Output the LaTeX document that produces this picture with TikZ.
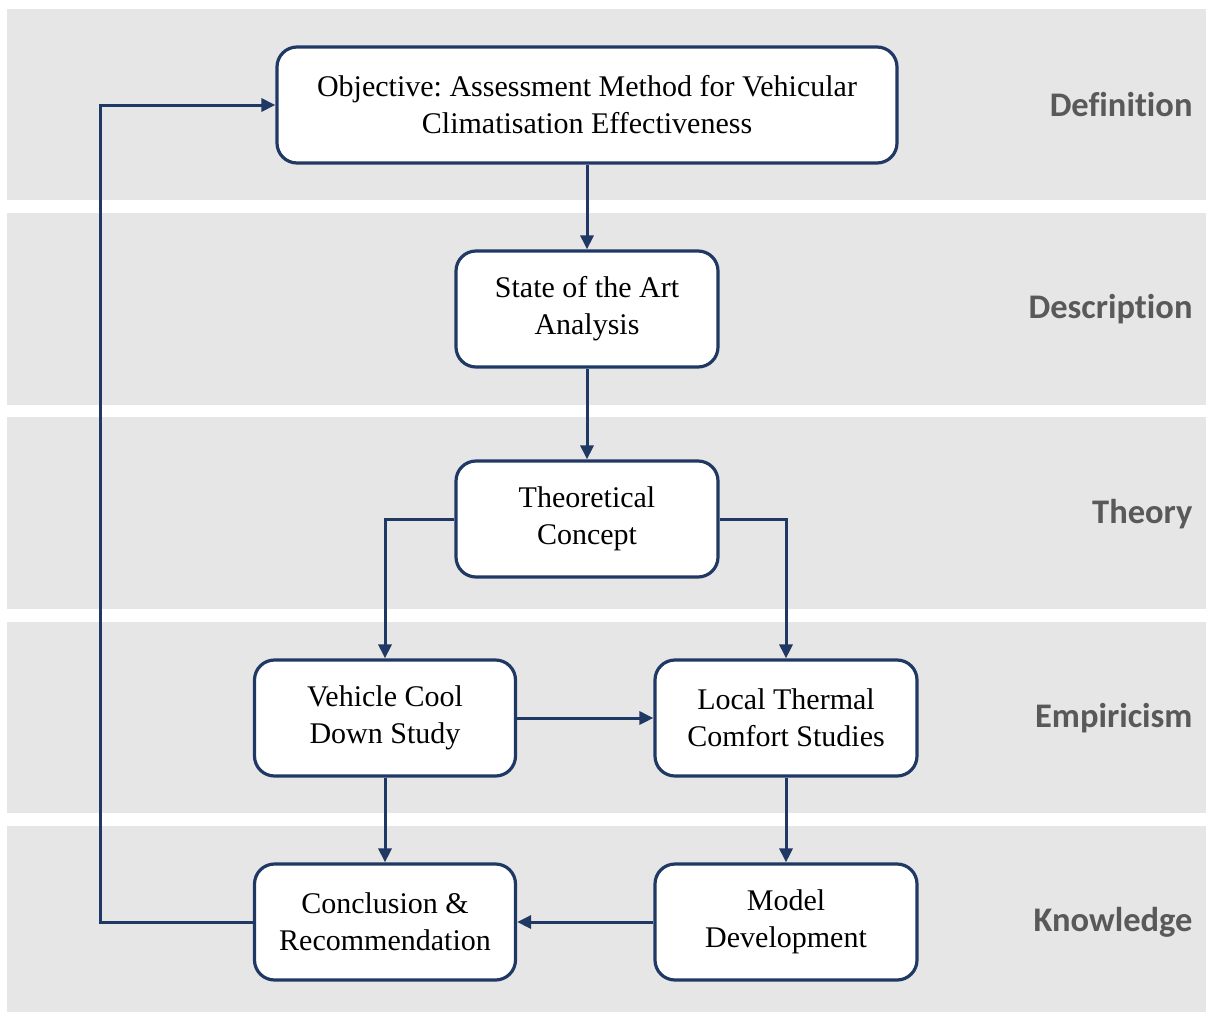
\documentclass[tikz,border=0pt]{standalone}
\usepackage{fontspec}
\setmainfont{Liberation Serif}
\newfontfamily\labelfont[Ligatures=NoCommon]{Carlito}
\usetikzlibrary{arrows.meta}
\definecolor{band}{RGB}{231,230,230}
\definecolor{navy}{RGB}{32,56,100}
\definecolor{labelgray}{RGB}{89,89,89}
\frenchspacing
\begin{document}
\begin{tikzpicture}[x=1pt,y=-1pt,
  stagebox/.style={draw=navy, line width=3.2pt, fill=white, rounded corners=20pt,
    minimum height=116pt, align=center, inner sep=0pt,
    font=\fontsize{30}{37}\selectfont},
  flow/.style={draw=navy, line width=3pt, -{Triangle[length=14pt,width=13pt]}},
  bandlabel/.style={anchor=east, text=labelgray, font=\labelfont\bfseries\fontsize{34.5}{40}\selectfont}
]
\useasboundingbox (0,0) rectangle (1206,1012);
% horizontal bands
\foreach \top/\bot in {9/200, 213/405, 417/609, 622/813, 826/1012}
  \fill[band] (7,\top) rectangle (1206,\bot);

% stage labels
\node[bandlabel] (ldef) at (1196,105) {Definition};
\node[bandlabel] (ldes) at (1196,309) {Description};
\node[bandlabel] (lthe) at (1196,514) {Theory};
\node[bandlabel] (lemp) at (1196,718) {Empiricism};
\node[bandlabel] (lkno) at (1196,922) {Knowledge};

% process steps
\node[stagebox, minimum width=620pt] (obj) at (587,105) {Objective: Assessment Method for Vehicular\\Climatisation Effectiveness};
\node[stagebox, minimum width=262pt] (soa) at (587,309) {State of the Art\\Analysis};
\node[stagebox, minimum width=262pt] (theo) at (587,519) {Theoretical\\Concept};
\node[stagebox, minimum width=261pt] (veh) at (385,718) {Vehicle Cool\\Down Study};
\node[stagebox, minimum width=262pt] (loc) at (786,718) {Local Thermal\\Comfort Studies};
\node[stagebox, minimum width=261pt] (con) at (385,922) {Conclusion \&\\Recommendation};
\node[stagebox, minimum width=262pt] (mod) at (786,922) {Model\\Development};

\coordinate (loopdown) at (100,922);
\coordinate (loopup) at (100,105);

% connectors
\draw[flow] (obj) -- (soa);
\draw[flow] (soa) -- (theo);
\draw[flow] (theo.west) -| (veh.north);
\draw[flow] (theo.east) -| (loc.north);
\draw[flow] (veh) -- (loc);
\draw[flow] (veh) -- (con);
\draw[flow] (loc) -- (mod);
\draw[flow] (mod) -- (con);
\draw[flow] (con.west) -- (loopdown) -- (loopup) -- (obj.west);
\end{tikzpicture}
\end{document}
